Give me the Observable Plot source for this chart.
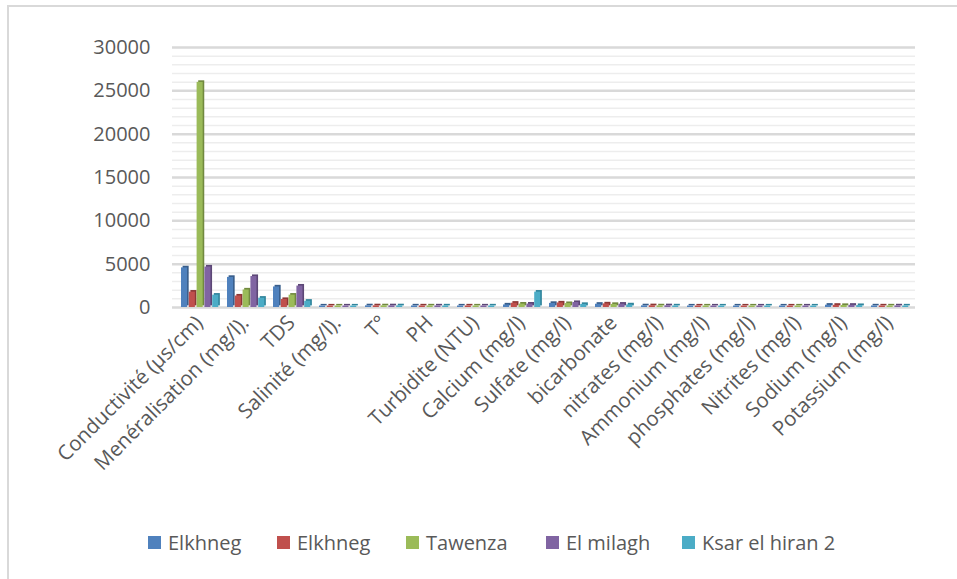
<!DOCTYPE html>
<html>
<head>
<meta charset="utf-8">
<script src="https://cdn.jsdelivr.net/npm/d3@7"></script>
<script src="https://cdn.jsdelivr.net/npm/@observablehq/plot@0.6"></script>
<style>
  html, body { margin: 0; padding: 0; background: #fff; }
  #wrap { position: relative; width: 957px; height: 579px; overflow: hidden; font-family: "Open Sans", sans-serif; }
  #frame { position: absolute; left: 7px; top: 5px; width: 2000px; height: 2000px; border-left: 2px solid #d9d9d9; border-top: 2px solid #d9d9d9; box-sizing: border-box; pointer-events: none; }
  #chart { position: absolute; left: 0; top: 0; }
  #legend { position: absolute; top: 529px; left: 0; width: 957px; height: 30px; font-size: 20px; color: #595959; white-space: nowrap; }
  #legend .item { position: absolute; top: 0; display: flex; align-items: center; }
  #legend .sw { width: 13px; height: 13px; margin-right: 7px; }
</style>
</head>
<body>
<div id="wrap">
  <div id="frame"></div>
  <div id="chart"></div>
  <div id="legend"></div>
</div>
<script>
const categories = [
  "Conductivité (µs/cm)", "Menéralisation (mg/l).", "TDS", "Salinité (mg/l).", "T°", "PH",
  "Turbidite (NTU)", "Calcium (mg/l)", "Sulfate (mg/l)", "bicarbonate", "nitrates (mg/l)",
  "Ammonium (mg/l)", "phosphates (mg/l)", "Nitrites (mg/l)", "Sodium (mg/l)", "Potassium (mg/l)"
];
const seriesNames = ["Elkhneg", "Elkhneg", "Tawenza", "El milagh", "Ksar el hiran 2"];
const seriesColors = ["#4F81BD", "#C0504D", "#9BBB59", "#8064A2", "#4BACC6"];
const seriesSides = ["#385D8A", "#8C3836", "#71893F", "#5C4776", "#31859C"];

const elkhneg1 = [4400, 3300, 2200, 2.5, 20, 7.5, 3, 120, 300, 200, 20, 0.5, 0.3, 0.1, 90, 10];
const elkhneg2 = [1600, 1150, 750, 0.8, 21, 7.8, 5, 320, 350, 240, 30, 0.3, 0.2, 0.05, 80, 8];
const tawenza  = [25800, 1850, 1250, 1.2, 19, 7.2, 2, 220, 280, 180, 15, 0.2, 0.1, 0.02, 60, 6];
const elmilagh = [4500, 3400, 2300, 2.4, 22, 7.6, 4, 220, 400, 210, 25, 0.4, 0.2, 0.1, 85, 12];
const ksar     = [1250, 900, 550, 0.6, 20, 7.9, 6, 1600, 180, 130, 10, 0.1, 0.1, 0.03, 50, 5];
const seriesValues = [elkhneg1, elkhneg2, tawenza, elmilagh, ksar];

const yTicks = [0, 5000, 10000, 15000, 20000, 25000, 30000];
const minorTicks = d3.range(0, 30001, 1000).filter(v => v % 5000 !== 0);

const W = 957, H = 510;
const mL = 172, mR = 42, mT = 47, mB = 203;
const bw = (W - mL - mR) / categories.length;
const barW = 6.5, step = 7.8, start = 5;

const marks = [
  Plot.ruleY(minorTicks, {stroke: "#ededed", strokeWidth: 1.5}),
  Plot.ruleY(yTicks, {stroke: "#d9d9d9", strokeWidth: 2.5})
];
seriesValues.forEach((vals, i) => {
  const rows = categories.map((c, k) => ({cat: c, value: vals[k]}));
  const L = start + i * step;
  marks.push(Plot.barY(rows, {x: "cat", y: "value", fill: seriesSides[i], insetLeft: L, insetRight: bw - L - barW, insetTop: -1.5, dx: 1.6, dy: -1.6}));
  marks.push(Plot.barY(rows, {x: "cat", y: "value", fill: seriesColors[i], insetLeft: L, insetRight: bw - L - barW, insetTop: -1.5}));
});
marks.push(Plot.axisY({ticks: yTicks, tickSize: 0, tickPadding: 22, tickFormat: d => String(d), fontSize: 20}));
marks.push(Plot.axisX({tickSize: 0, tickPadding: 12, tickRotate: -45, fontSize: 20.5}));

const chart = Plot.plot({
  width: W, height: H,
  marginLeft: mL, marginRight: mR, marginTop: mT, marginBottom: mB,
  style: {fontFamily: "Open Sans, sans-serif", color: "#595959", background: "transparent"},
  x: {domain: categories, padding: 0, label: null},
  y: {domain: [0, 30000], label: null},
  marks
});
document.getElementById("chart").appendChild(chart);

const legend = document.getElementById("legend");
const legendX = [148, 277, 406, 546, 682];
seriesNames.forEach((n, i) => {
  const it = document.createElement("div");
  it.className = "item";
  it.style.left = legendX[i] + "px";
  const sw = document.createElement("div");
  sw.className = "sw";
  sw.style.background = seriesColors[i];
  const t = document.createElement("span");
  t.textContent = n;
  it.appendChild(sw); it.appendChild(t);
  legend.appendChild(it);
});
</script>
</body>
</html>
